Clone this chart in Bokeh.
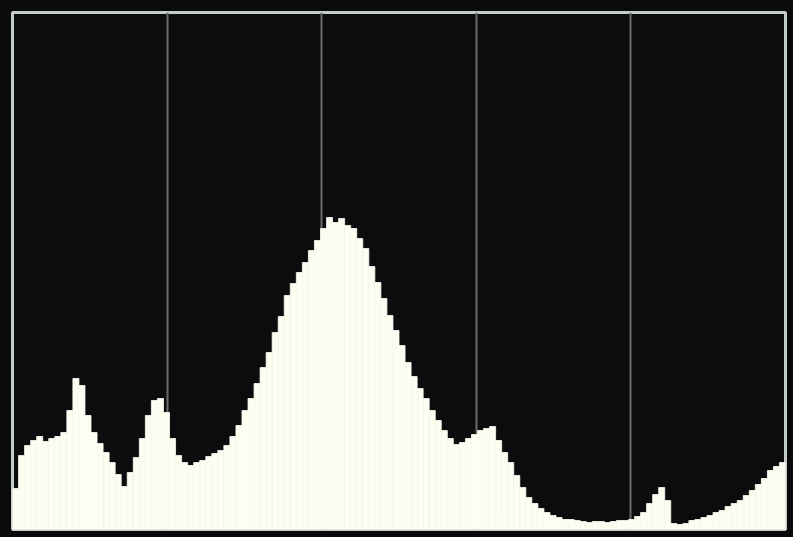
from bokeh.plotting import figure
from bokeh.models import Range1d, FixedTicker
from bokeh.embed import file_html
from bokeh.resources import INLINE

# 128 histogram bins over the 0..256 tonal range
bin_left = list(range(0, 256, 2))
counts = [
    41, 74, 84, 89, 93, 88, 91, 93, 97, 119, 151, 144, 114, 97, 86, 77,
    67, 55, 43, 57, 72, 91, 114, 129, 131, 117, 91, 74, 67, 64, 67, 69,
    73, 76, 79, 84, 93, 104, 119, 131, 146, 162, 177, 197, 213, 234, 246, 257,
    267, 279, 289, 301, 312, 307, 311, 304, 301, 291, 281, 263, 247, 231, 214, 199,
    184, 167, 153, 141, 131, 119, 109, 99, 91, 85, 87, 91, 95, 99, 101, 103,
    89, 77, 67, 54, 42, 32, 26, 21, 17, 14, 12, 10, 10, 9, 8, 7,
    8, 8, 7, 8, 9, 9, 10, 13, 17, 26, 35, 42, 29, 6, 5, 6,
    9, 10, 12, 14, 17, 19, 23, 26, 29, 34, 39, 45, 51, 59, 63, 67,
]
grid_ticks = [51.2, 102.4, 153.6, 204.8]

centers = [b + 1 for b in bin_left]

p = figure(width=789, height=533, output_backend="svg", toolbar_location=None,
           x_range=Range1d(0, 256), y_range=Range1d(0, 517),
           min_border_left=12, min_border_right=4, min_border_top=12, min_border_bottom=4)
p.background_fill_color = "#0c0c0e"
p.border_fill_color = "#0a0a0c"
p.outline_line_color = "#c4cbcb"
p.outline_line_width = 3
p.xaxis.visible = False
p.yaxis.visible = False
p.ygrid.visible = False
p.xgrid.ticker = FixedTicker(ticks=grid_ticks)
p.xgrid.grid_line_color = "#6a6a6a"
p.xgrid.grid_line_width = 2

p.vbar(x=centers, top=counts, bottom=0, width=2.0,
       fill_color="#fdfdf2", line_color="#fdfdf2", line_width=0.8)

html = file_html(p, INLINE)
html = html.replace("<body>", '<body style="background:#0a0a0c;">')
open("out.html", "w").write(html)
